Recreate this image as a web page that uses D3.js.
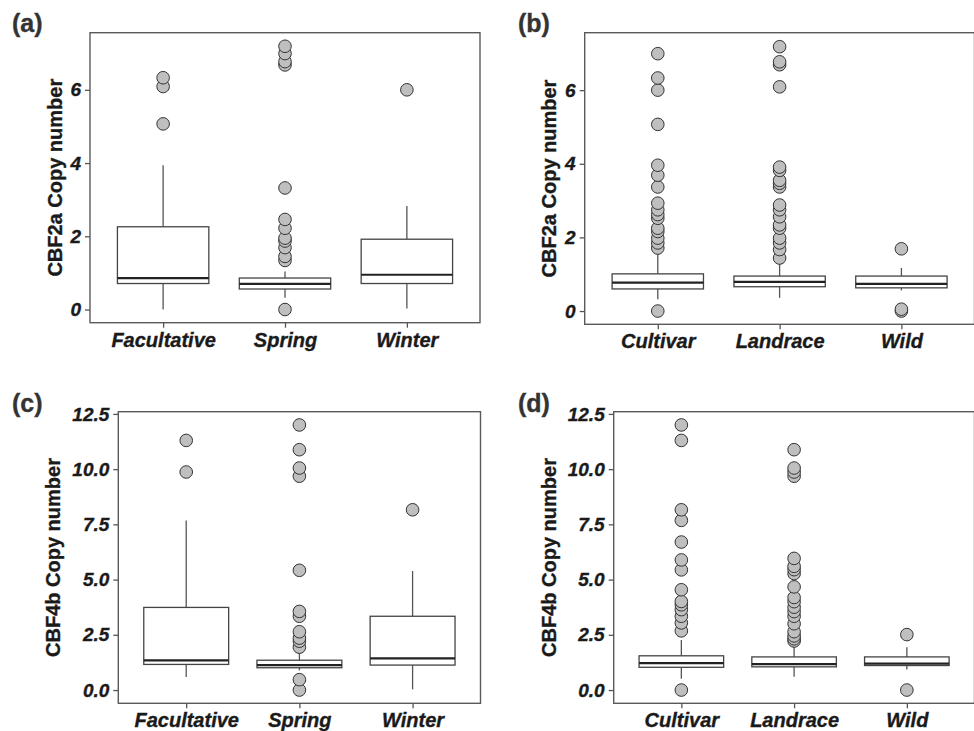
<!DOCTYPE html>
<html>
<head>
<meta charset="utf-8">
<script src="https://cdn.jsdelivr.net/npm/d3@7"></script>
<style>
  html, body { margin: 0; padding: 0; background: #fff; }
  svg { display: block; }
  text { font-family: "Liberation Sans", Arial, Helvetica, sans-serif; }
  .heavy { stroke: currentColor; stroke-width: 0.35px; paint-order: stroke; }
</style>
</head>
<body>
<svg id="chart" width="974" height="731"></svg>
<script>
// Growth habit and germplasm origin groups
const typeCategories = ["Facultative", "Spring", "Winter"];
const originCategories = ["Cultivar", "Landrace", "Wild"];

// Box statistics per group: [lower whisker, Q1, median, Q3, upper whisker]
const cbf2aTypeBoxes = [
  [0.00, 0.71, 0.86, 2.26, 3.94],
  [0.32, 0.56, 0.70, 0.86, 1.04],
  [0.03, 0.71, 0.95, 1.92, 2.83]
];
const cbf2aTypeOutliers = [
  [5.07, 6.09, 6.33],
  [0.00, 1.34, 1.45, 1.69, 1.87, 1.95, 2.22, 2.46, 3.32, 6.68, 6.77, 6.99, 7.19],
  [6.00]
];

const cbf2aOriginBoxes = [
  [0.32, 0.60, 0.77, 1.01, 1.60],
  [0.36, 0.66, 0.79, 0.95, 1.38],
  [0.56, 0.63, 0.74, 0.95, 1.17]
];
const cbf2aOriginOutliers = [
  [0.00, 1.71, 1.85, 1.98, 2.16, 2.25, 2.52, 2.62, 2.75, 2.93, 3.37, 3.69, 3.96, 5.07, 6.00, 6.33, 6.99],
  [1.44, 1.67, 1.85, 1.98, 2.25, 2.34, 2.56, 2.75, 2.88, 3.37, 3.47, 3.55, 3.82, 3.91, 6.09, 6.69, 6.77, 7.18],
  [0.00, 0.05, 1.69]
];

const cbf4bTypeBoxes = [
  [0.59, 1.16, 1.34, 3.74, 7.68],
  [0.89, 1.01, 1.13, 1.35, 1.75],
  [0.03, 1.13, 1.43, 3.34, 5.39]
];
const cbf4bTypeOutliers = [
  [9.87, 11.30],
  [0.00, 0.47, 1.94, 2.21, 2.35, 2.64, 3.34, 3.56, 5.42, 9.68, 10.05, 10.88, 12.00],
  [8.16]
];

const cbf4bOriginBoxes = [
  [0.51, 1.03, 1.22, 1.55, 2.26],
  [0.60, 1.05, 1.17, 1.50, 2.15],
  [0.93, 1.11, 1.20, 1.50, 1.94]
];
const cbf4bOriginOutliers = [
  [0.00, 2.68, 3.04, 3.34, 3.64, 3.86, 4.01, 4.54, 5.44, 5.89, 6.70, 7.68, 8.16, 11.30, 12.00],
  [2.22, 2.32, 2.45, 2.64, 3.00, 3.34, 3.55, 3.75, 4.00, 4.19, 4.67, 5.27, 5.45, 5.60, 5.96, 9.68, 9.87, 10.05, 10.88],
  [0.00, 2.51]
];

// Axis settings
const cbf2aTicks = [0, 2, 4, 6];
const cbf2aDomain = [-0.36, 7.56];
const cbf4bTicks = [0, 2.5, 5, 7.5, 10, 12.5];
const cbf4bDomain = [-0.6, 12.6];

const svg = d3.select("#chart");

function drawPanel(opt) {
  const { left, right, top, bottom } = opt;
  const g = svg.append("g");

  const x = d3.scalePoint()
    .domain(opt.categories)
    .range([left, right])
    .padding(0.6);
  const y = d3.scaleLinear()
    .domain(opt.domain)
    .range([bottom, top]);
  const boxW = x.step() * 0.75;

  // panel frame
  g.append("rect")
    .attr("x", left).attr("y", top)
    .attr("width", right - left).attr("height", bottom - top)
    .attr("fill", "none")
    .attr("stroke", "#5a5a5a")
    .attr("stroke-width", 1.4);

  // y axis
  const yAxis = g.append("g")
    .attr("transform", `translate(${left},0)`)
    .call(d3.axisLeft(y).tickValues(opt.ticks).tickSize(5).tickPadding(4)
      .tickFormat(opt.tickFormat));
  yAxis.select(".domain").remove();
  yAxis.selectAll(".tick line").attr("stroke", "#555").attr("stroke-width", 1.3);
  yAxis.selectAll(".tick text")
    .attr("class", "heavy")
    .attr("fill", "#1a1a1a")
    .style("color", "#1a1a1a")
    .style("font-size", "19px")
    .style("font-weight", "bold")
    .style("font-style", "italic")
    .style("font-family", '"Liberation Sans", Arial, sans-serif');

  // x axis
  const xAxis = g.append("g")
    .attr("transform", `translate(0,${bottom})`)
    .call(d3.axisBottom(x).tickSize(5).tickPadding(5));
  xAxis.select(".domain").remove();
  xAxis.selectAll(".tick line").attr("stroke", "#555").attr("stroke-width", 1.3);
  xAxis.selectAll(".tick text")
    .attr("class", "heavy")
    .attr("fill", "#1a1a1a")
    .style("color", "#1a1a1a")
    .style("font-size", "20px")
    .style("font-weight", "bold")
    .style("font-style", "italic")
    .style("font-family", '"Liberation Sans", Arial, sans-serif');

  // y axis title
  g.append("text")
    .attr("class", "heavy")
    .attr("transform", `translate(${opt.titleX},${(top + bottom) / 2}) rotate(-90)`)
    .attr("text-anchor", "middle")
    .attr("fill", "#1a1a1a")
    .style("color", "#1a1a1a")
    .style("font-size", "20px")
    .style("font-weight", "bold")
    .text(opt.title);

  // panel letter
  g.append("text")
    .attr("class", "heavy")
    .attr("x", opt.labelX).attr("y", opt.labelY)
    .attr("fill", "#333")
    .style("color", "#333")
    .style("font-size", "25px")
    .style("font-weight", "bold")
    .text(opt.label);

  // boxes
  const boxes = g.selectAll(".box")
    .data(opt.boxes.map((b, i) => ({ cat: opt.categories[i], s: b })))
    .enter().append("g").attr("class", "box");

  boxes.append("line")
    .attr("x1", d => x(d.cat)).attr("x2", d => x(d.cat))
    .attr("y1", d => y(d.s[3])).attr("y2", d => y(d.s[4]))
    .attr("stroke", "#555").attr("stroke-width", 1.3);
  boxes.append("line")
    .attr("x1", d => x(d.cat)).attr("x2", d => x(d.cat))
    .attr("y1", d => y(d.s[1])).attr("y2", d => y(d.s[0]))
    .attr("stroke", "#555").attr("stroke-width", 1.3);
  boxes.append("rect")
    .attr("x", d => x(d.cat) - boxW / 2)
    .attr("width", boxW)
    .attr("y", d => y(d.s[3]))
    .attr("height", d => y(d.s[1]) - y(d.s[3]))
    .attr("fill", "#fff")
    .attr("stroke", "#444")
    .attr("stroke-width", 1.3);
  boxes.append("line")
    .attr("x1", d => x(d.cat) - boxW / 2).attr("x2", d => x(d.cat) + boxW / 2)
    .attr("y1", d => y(d.s[2])).attr("y2", d => y(d.s[2]))
    .attr("stroke", "#222").attr("stroke-width", 2.2);

  // outliers
  const pts = [];
  opt.outliers.forEach((vals, i) => vals.forEach(v => pts.push({ cat: opt.categories[i], v })));
  g.selectAll(".pt")
    .data(pts)
    .enter().append("circle")
    .attr("class", "pt")
    .attr("cx", d => x(d.cat))
    .attr("cy", d => y(d.v))
    .attr("r", 6.3)
    .attr("fill", "#bfbfbf")
    .attr("stroke", "#333")
    .attr("stroke-width", 1);
}

const fmtInt = d3.format("d");
const fmt1 = d3.format(".1f");

drawPanel({
  label: "(a)", labelX: 12, labelY: 32,
  left: 90, right: 480, top: 32.7, bottom: 322.7,
  categories: typeCategories, boxes: cbf2aTypeBoxes, outliers: cbf2aTypeOutliers,
  domain: cbf2aDomain, ticks: cbf2aTicks, tickFormat: fmtInt,
  title: "CBF2a Copy number", titleX: 62
});
drawPanel({
  label: "(b)", labelX: 518, labelY: 32,
  left: 584.7, right: 974.5, top: 32.7, bottom: 324.3,
  categories: originCategories, boxes: cbf2aOriginBoxes, outliers: cbf2aOriginOutliers,
  domain: cbf2aDomain, ticks: cbf2aTicks, tickFormat: fmtInt,
  title: "CBF2a Copy number", titleX: 556
});
drawPanel({
  label: "(c)", labelX: 12, labelY: 411.7,
  left: 118.3, right: 480.5, top: 411.7, bottom: 703.3,
  categories: typeCategories, boxes: cbf4bTypeBoxes, outliers: cbf4bTypeOutliers,
  domain: cbf4bDomain, ticks: cbf4bTicks, tickFormat: fmt1,
  title: "CBF4b Copy number", titleX: 60
});
drawPanel({
  label: "(d)", labelX: 518, labelY: 411.7,
  left: 613.7, right: 974.5, top: 411.7, bottom: 703.3,
  categories: originCategories, boxes: cbf4bOriginBoxes, outliers: cbf4bOriginOutliers,
  domain: cbf4bDomain, ticks: cbf4bTicks, tickFormat: fmt1,
  title: "CBF4b Copy number", titleX: 556
});
</script>
</body>
</html>
